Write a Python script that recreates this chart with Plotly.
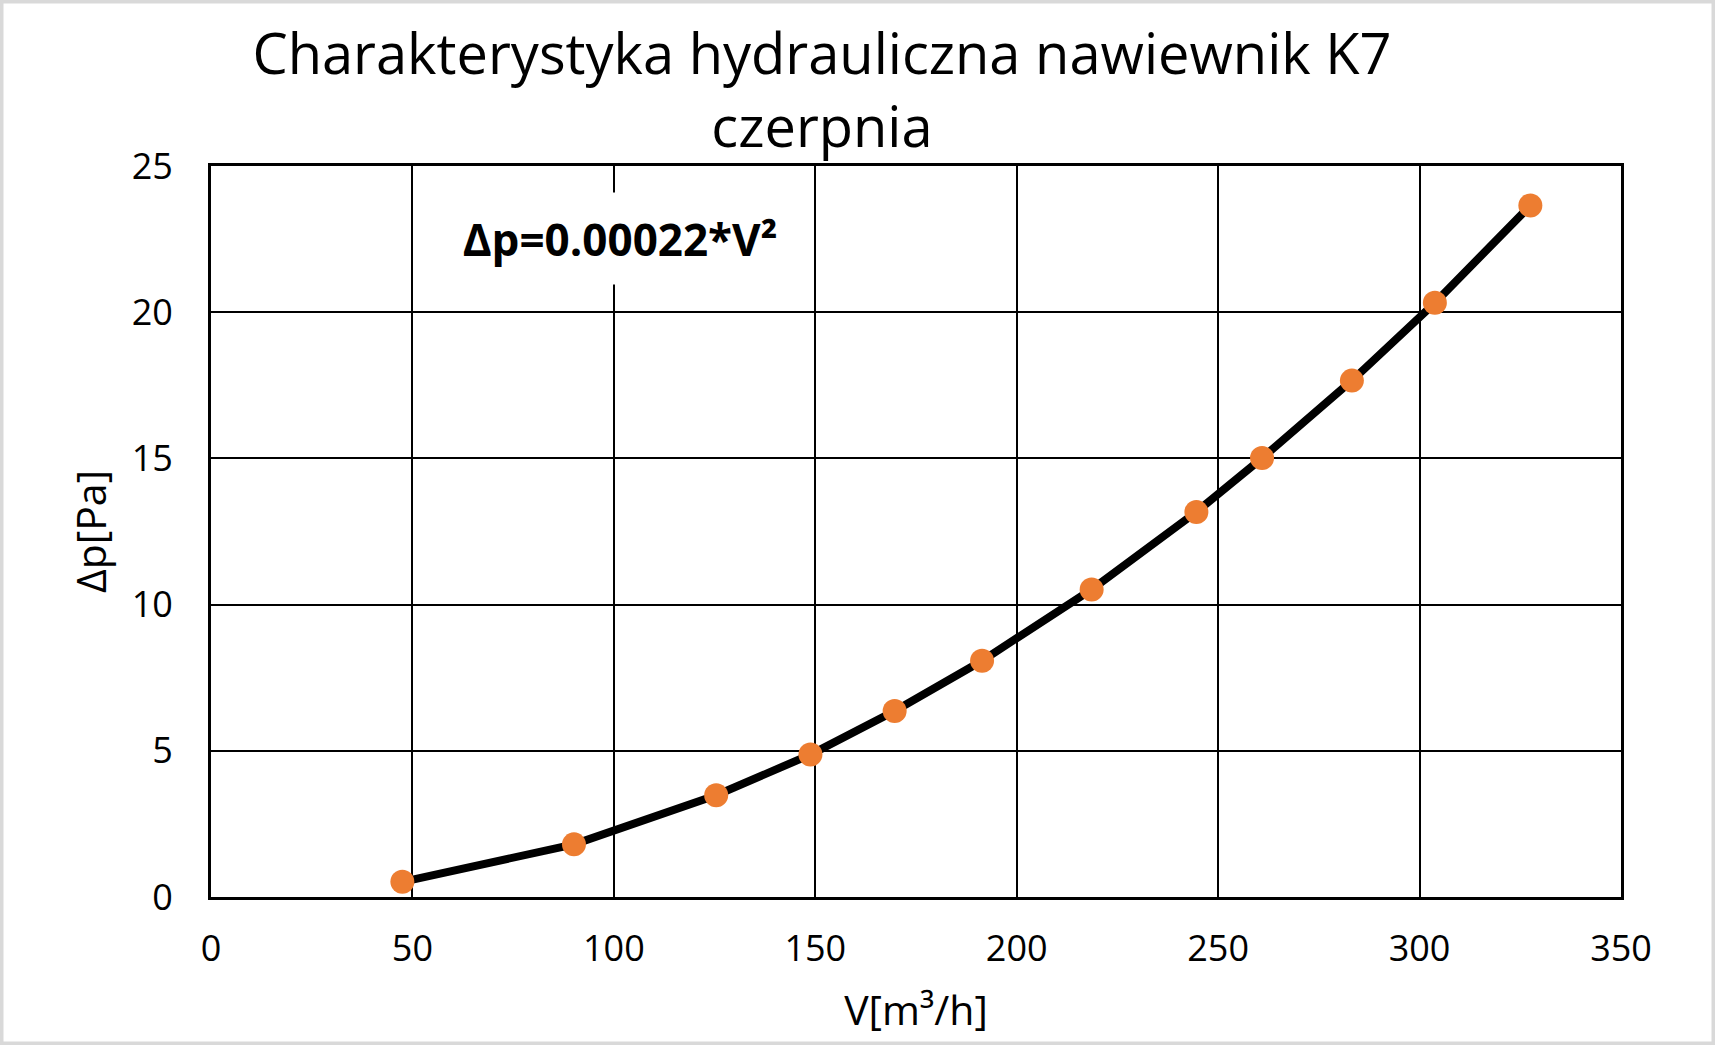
import plotly.graph_objects as go

# data
flow_v = [47.5, 90.1, 125.4, 148.8, 169.7, 191.4, 218.6, 244.6, 260.9, 283.2, 303.8, 327.5]
dp = [0.52, 1.80, 3.48, 4.87, 6.36, 8.08, 10.52, 13.17, 15.01, 17.66, 20.32, 23.65]
x_ticks = [0, 50, 100, 150, 200, 250, 300, 350]
y_ticks = [0, 5, 10, 15, 20, 25]
title_text = "Charakterystyka hydrauliczna nawiewnik K7<br>czerpnia"
formula_text = "<b>Δp=0.00022*V²</b>"

W, H = 1715, 1045
L, R, T, B = 211, 94, 166, 148
pw, ph = W - L - R, H - T - B

FONT = "Open Sans"

fig = go.Figure()
fig.add_trace(go.Scatter(
    x=flow_v, y=dp, mode="lines+markers",
    line=dict(color="black", width=8),
    marker=dict(color="#ED7D31", size=24, line=dict(width=0)),
    showlegend=False,
))

axis_common = dict(
    showgrid=True, gridcolor="black", gridwidth=2,
    showline=True, linecolor="black", linewidth=3, mirror=True,
    zeroline=False, ticks="", tickfont=dict(family=FONT, size=36, color="black"),
)

fig.update_xaxes(range=[0, 350], tickvals=x_ticks, ticklabelstandoff=18,
                 title=dict(text="V[m³/h]", font=dict(family=FONT, size=41, color="black"), standoff=26),
                 **axis_common)
fig.update_yaxes(range=[0, 25], tickvals=y_ticks, ticklabelstandoff=28,
                 title=dict(text="Δp[Pa]", font=dict(family=FONT, size=41, color="black"), standoff=13),
                 **axis_common)

fig.add_annotation(
    x=101.5, y=22.7, xref="x", yref="y", text=formula_text, showarrow=False,
    font=dict(family=FONT, size=44, color="black"),
    bgcolor="white", width=380, height=89, align="center", valign="middle", yshift=-5,
)

# outer gray frame
x0 = -L / pw
x1 = (W - L) / pw
y0 = -B / ph
y1 = (H - B) / ph
fig.add_shape(type="rect", xref="paper", yref="paper", x0=x0, x1=x1, y0=y0, y1=y1,
              line=dict(color="#D9D9D9", width=7), layer="above")

fig.update_layout(
    width=W, height=H, autosize=False,
    margin=dict(l=L, r=R, t=T, b=B),
    paper_bgcolor="white", plot_bgcolor="white",
    title=dict(text=title_text, x=822 / W, xanchor="center",
               y=1 - 74 / H, yanchor="middle",
               font=dict(family=FONT, size=56, color="black")),
)

fig.write_html("out.html", config={"displayModeBar": False},
               post_script="document.body.style.margin='0';document.body.style.overflow='hidden';")
